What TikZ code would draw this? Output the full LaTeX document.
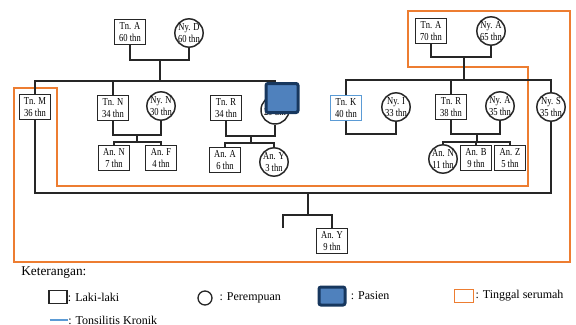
\documentclass[tikz,border=0pt]{standalone}
\usepackage{fontspec}
\setmainfont{Liberation Serif}
\newfontfamily\nodefont[FakeStretch=0.8]{Liberation Serif}
\definecolor{oranye}{RGB}{237,125,49}
\definecolor{biru}{RGB}{91,155,213}
\definecolor{pasienisi}{RGB}{79,129,189}
\definecolor{pasientepi}{RGB}{23,55,94}
\tikzset{
  garis/.style={draw=black!85, line width=0.9pt},
  laki/.style={draw=black!85, line width=1.1pt, fill=white, minimum width=23pt, minimum height=19pt,
    inner sep=0pt, align=center, font=\nodefont\fontsize{8}{8.5}\selectfont},
  puan/.style={circle, draw=black!85, line width=1.1pt, fill=white, minimum size=21pt,
    inner sep=0pt, align=center, font=\nodefont\fontsize{8}{8.5}\selectfont},
  pasien/.style={draw=pasientepi, fill=pasienisi, line width=2.25pt, rounded corners=1.5pt,
    minimum width=24pt, minimum height=21.75pt, inner sep=0pt},
  ket/.style={anchor=west, inner sep=0pt, font=\fontsize{9}{10}\selectfont}
}
\begin{document}
\begin{tikzpicture}[x=0.75pt,y=0.75pt,yscale=-1,xscale=1]
\useasboundingbox (0,0) rectangle (576,325);

%Shape: Tinggal serumah
\draw[oranye, line width=0.9pt] (14,88) -- (57,88) -- (57,186) -- (528,186) -- (528,67) -- (408,67)
  -- (408,11) -- (570,11) -- (570,262) -- (14,262) -- cycle ;

% Generasi I
\node[laki] (tnA) at (130,32) {Tn. A\\60 thn};
\node[puan] (nyD) at (189,33) {Ny. D\\60 thn};
\node[laki] (tnAb) at (431,31) {Tn. A\\70 thn};
\node[puan] (nyAb) at (491,31) {Ny. A\\65 thn};

% Generasi II
\node[laki] (tnM) at (35,107) {Tn. M\\36 thn};
\node[laki] (tnN) at (113,108) {Tn. N\\34 thn};
\node[puan] (nyN) at (161,106) {Ny. N\\30 thn};
\node[laki] (tnR) at (226,108) {Tn. R\\34 thn};
\node[puan] (pas) at (275,110) {\mbox{}\\29 thn};
\node[laki, draw=biru] (tnK) at (346,108) {Tn. K\\40 thn};
\node[puan] (nyI) at (396,107) {Ny. I\\33 thn};
\node[laki] (tnRb) at (451,107) {Tn. R\\38 thn};
\node[puan] (nyAc) at (500,106) {Ny. A\\35 thn};
\node[puan] (nyS) at (551,107) {Ny. S\\35 thn};

% Generasi III
\node[laki] (anN) at (114,158) {An. N\\7 thn};
\node[laki] (anF) at (161,158) {An. F\\4 thn};
\node[laki] (anA) at (225,160) {An. A\\6 thn};
\node[puan] (anY) at (274,162) {An. Y\\3 thn};
\node[puan] (anNb) at (443,159) {An. N\\11 thn};
\node[laki] (anB) at (476,158) {An. B\\9 thn};
\node[laki] (anZ) at (510,158) {An. Z\\5 thn};
\node[laki] (anYb) at (332,241) {An. Y\\9 thn};

% Garis keturunan
\coordinate (mA) at (160,60);
\coordinate (sA) at (160,81);
\draw[garis] (tnA.south) |- (mA) -| (nyD.south);
\draw[garis] (mA) -- (sA);
\draw[garis] (tnM.north) |- (sA) -| (pas.north);
\draw[garis] (tnN.north) -- (tnN.north |- sA);

\coordinate (mB) at (464,57);
\coordinate (sB) at (464,80);
\draw[garis] (tnAb.south) |- (mB) -| (nyAb.south);
\draw[garis] (mB) -- (sB);
\draw[garis] (tnK.north) |- (sB) -| (nyS.north);
\draw[garis] (tnRb.north) -- (tnRb.north |- sB);

\coordinate (mN) at (137,135);
\coordinate (cN) at (137,142);
\draw[garis] (tnN.south) |- (mN) -| (nyN.south);
\draw[garis] (mN) -- (cN);
\draw[garis] (anN.north) |- (cN) -| (anF.north);

\coordinate (mR) at (251,136);
\coordinate (cR) at (251,143);
\draw[garis] (tnR.south) |- (mR) -| (pas.south);
\draw[garis] (mR) -- (cR);
\draw[garis] (anA.north) |- (cR) -| (anY.north);

\coordinate (mK) at (371,134);
\draw[garis] (tnK.south) |- (mK) -| (nyI.south);

\coordinate (mRb) at (477,134);
\coordinate (cRb) at (477,142);
\draw[garis] (tnRb.south) |- (mRb) -| (nyAc.south);
\draw[garis] (mRb) -- (cRb);
\draw[garis] (anNb.north) |- (cRb) -| (anZ.north);
\draw[garis] (anB.north) -- (anB.north |- cRb);

\coordinate (mM) at (308,193);
\coordinate (cM) at (308,215);
\coordinate (ujung) at (283,228);
\draw[garis] (tnM.south) |- (mM) -| (nyS.south);
\draw[garis] (mM) -- (cM);
\draw[garis] (ujung) |- (cM) -| (anYb.north);

% Pasien
\node[pasien] (psn) at (282,98) {};

% Keterangan
\node[anchor=west, inner sep=0pt, font=\fontsize{10}{12}\selectfont] (judul) at (21,273) {Keterangan:};
\node[draw=black!85, line width=1pt, minimum width=13.5pt, minimum height=9.5pt, inner sep=0pt] (lgLaki) at (58,297) {};
\node[ket] (txLaki) at (lgLaki.east) {: Laki-laki};
\node[circle, draw=black!85, line width=1pt, minimum size=10.5pt, inner sep=0pt] (lgPuan) at (205,298) {};
\node[ket] (txPuan) at ([xshift=5pt]lgPuan.east) {: Perempuan};
\node[pasien, minimum width=19.5pt, minimum height=13.5pt] (lgPas) at (332,296) {};
\node[ket] (txPas) at ([xshift=3pt]lgPas.east) {: Pasien};
\node[draw=oranye, line width=0.9pt, minimum width=14pt, minimum height=9.5pt, inner sep=0pt] (lgRumah) at (464,296) {};
\node[ket] (txRumah) at ([xshift=1pt]lgRumah.east) {: Tinggal serumah};
\coordinate (lgTA) at (50,320);
\coordinate (lgTB) at (68,320);
\draw[biru, line width=1.6pt] (lgTA) -- (lgTB);
\node[ket] (txTons) at (lgTB) {: Tonsilitis Kronik};

\end{tikzpicture}
\end{document}
